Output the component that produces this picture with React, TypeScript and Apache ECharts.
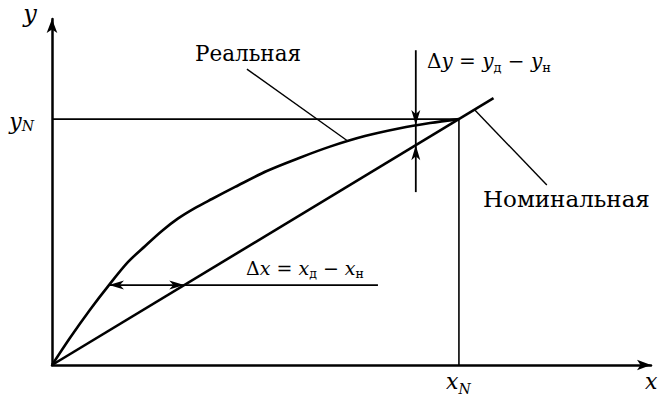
import React, { useEffect, useRef } from "react";
import * as echarts from "echarts";

// Axis extents (units: x_N = 10, y_N = 10)
const AXIS_X_MAX = 14.72;
const AXIS_Y_MAX = 14.07;
const X_N = 10;
const Y_N = 10;

// Real (Реальная) characteristic
const realX = [0, 0.44, 0.93, 1.4, 1.87, 2.29, 2.7, 3.1, 3.51, 3.93, 4.5, 5.28, 6.09, 6.83, 7.69, 8.55, 9.29, 10];
const realY = [0, 1.1, 2.24, 3.25, 4.19, 4.84, 5.45, 5.96, 6.38, 6.75, 7.24, 7.89, 8.43, 8.88, 9.31, 9.63, 9.84, 10];

// Nominal (Номинальная) characteristic
const nominalX = [0, 10.85];
const nominalY = [0, 10.85];

// Guide lines to x_N / y_N
const guideYX = [0, X_N];
const guideYY = [Y_N, Y_N];
const guideXX = [X_N, X_N];
const guideXY = [0, Y_N];

// Leader lines for labels
const realLeaderX = [4.79, 7.25];
const realLeaderY = [12.03, 9.13];
const nominalLeaderX = [10.39, 12.16];
const nominalLeaderY = [10.37, 7.32];

// Δx and Δy dimension shafts
const dxShaftX = [1.4, 8.01];
const dxShaftY = [3.25, 3.25];
const dyShaftX = [8.94, 8.94];
const dyShaftY = [12.8, 7.03];

// Arrowheads: tip and a point the arrow comes from
const arrowTipX = [1.4, 3.25, 8.94, 8.94];
const arrowTipY = [3.25, 3.25, 9.76, 8.94];
const arrowFromX = [2.3, 2.3, 8.94, 8.94];
const arrowFromY = [3.25, 3.25, 11.5, 7.5];

const zip = (xs: number[], ys: number[]) => xs.map((x, i) => [x, ys[i]]);

const SERIF = "DejaVu Serif";

function lineSeries(name: string, data: number[][], width: number, smooth: number | boolean = false) {
  return {
    name,
    type: "line",
    data,
    smooth,
    showSymbol: false,
    symbol: "none",
    silent: true,
    lineStyle: { color: "#000", width },
    z: 3,
  };
}

export default function App() {
  const ref = useRef<HTMLDivElement>(null);
  useEffect(() => {
    if (!ref.current) return;
    const chart = echarts.init(ref.current, null, { renderer: "svg" });
    const makeRich = (size: number, sub: number, lh: number) => ({
      u: { fontFamily: SERIF, fontSize: size, fill: "#000", lineHeight: lh },
      i: { fontFamily: SERIF, fontStyle: "italic", fontSize: size, fill: "#000", lineHeight: lh },
      s: { fontFamily: SERIF, fontSize: sub, fill: "#000", verticalAlign: "bottom", lineHeight: sub },
    });
    const text = (x: number, y: number, t: string, extra: any, align = "left") => ({
      type: "text",
      x,
      y,
      silent: true,
      style: {
        text: t,
        fill: "#000",
        fontFamily: SERIF,
        align,
        textAlign: align,
        verticalAlign: "middle",
        textVerticalAlign: "middle",
        ...extra,
      },
    });
    chart.setOption({
      animation: false,
      backgroundColor: "#fff",
      textStyle: { fontFamily: SERIF },
      grid: { left: 52, right: 8, top: 19, bottom: 32, containLabel: false },
      xAxis: {
        type: "value",
        min: 0,
        max: AXIS_X_MAX,
        axisLine: {
          show: true,
          onZero: false,
          symbol: ["none", "arrow"],
          symbolSize: [8, 14],
          lineStyle: { color: "#000", width: 2.5 },
        },
        axisTick: { show: false },
        axisLabel: { show: false },
        splitLine: { show: false },
      },
      yAxis: {
        type: "value",
        min: 0,
        max: AXIS_Y_MAX,
        axisLine: {
          show: true,
          onZero: false,
          symbol: ["none", "arrow"],
          symbolSize: [8, 14],
          lineStyle: { color: "#000", width: 2.5 },
        },
        axisTick: { show: false },
        axisLabel: { show: false },
        splitLine: { show: false },
      },
      series: [
        lineSeries("Реальная", zip(realX, realY), 2.6, 0.3),
        lineSeries("Номинальная", zip(nominalX, nominalY), 2.6),
        lineSeries("yN", zip(guideYX, guideYY), 1.6),
        lineSeries("xN", zip(guideXX, guideXY), 1.6),
        lineSeries("leaderReal", zip(realLeaderX, realLeaderY), 1.4),
        lineSeries("leaderNominal", zip(nominalLeaderX, nominalLeaderY), 1.4),
        lineSeries("dx", zip(dxShaftX, dxShaftY), 1.8),
        lineSeries("dy", zip(dyShaftX, dyShaftY), 1.8),
        {
          type: "custom",
          silent: true,
          z: 5,
          data: arrowTipX.map((x, i) => [x, arrowTipY[i], arrowFromX[i], arrowFromY[i]]),
          renderItem: (_p: any, api: any) => {
            const tip = api.coord([api.value(0), api.value(1)]);
            const from = api.coord([api.value(2), api.value(3)]);
            const dx = tip[0] - from[0];
            const dy = tip[1] - from[1];
            const len = Math.hypot(dx, dy) || 1;
            const ux = dx / len;
            const uy = dy / len;
            const px = -uy;
            const py = ux;
            const L = 15;
            const W = 4.5;
            const N = 11;
            const bx = tip[0] - ux * L;
            const by = tip[1] - uy * L;
            const nx = tip[0] - ux * N;
            const ny = tip[1] - uy * N;
            return {
              type: "polygon",
              shape: {
                points: [
                  [tip[0], tip[1]],
                  [bx + px * W, by + py * W],
                  [nx, ny],
                  [bx - px * W, by - py * W],
                ],
              },
              style: { fill: "#000" },
            };
          },
        },
      ],
      graphic: [
        text(30, 14, "y", { fontStyle: "italic", fontSize: 24 }, "center"),
        text(34, 121, "{i|y}{n|N}", {
          rich: {
            i: { fontFamily: SERIF, fontStyle: "italic", fontSize: 22, lineHeight: 23 },
            n: { fontFamily: SERIF, fontStyle: "italic", fontSize: 14, lineHeight: 14, verticalAlign: "bottom" },
          },
        }, "right"),
        text(446, 381, "{i|x}{n|N}", {
          rich: {
            i: { fontFamily: SERIF, fontStyle: "italic", fontSize: 22, lineHeight: 29 },
            n: { fontFamily: SERIF, fontStyle: "italic", fontSize: 14, lineHeight: 14, verticalAlign: "bottom" },
          },
        }),
        text(645, 381, "x", { fontStyle: "italic", fontSize: 22 }),
        text(195, 53, "Реальная", { fontSize: 21.5 }),
        text(483, 199, "Номинальная", { fontSize: 23 }),
        text(427, 60.5, "{u|Δ}{i|y}{u| = }{i|y}{s|д}{u| − }{i|y}{s|н}", { rich: makeRich(20, 13, 26) }),
        text(246, 267.5, "{u|Δ}{i|x}{u| = }{i|x}{s|д}{u| − }{i|x}{s|н}", { rich: makeRich(19, 12.5, 25) }),
      ],
    });
    return () => chart.dispose();
  }, []);
  return (
    <div
      ref={ref}
      style={{ position: "absolute", left: 0, top: 0, width: 659, height: 397, background: "#fff" }}
    />
  );
}
